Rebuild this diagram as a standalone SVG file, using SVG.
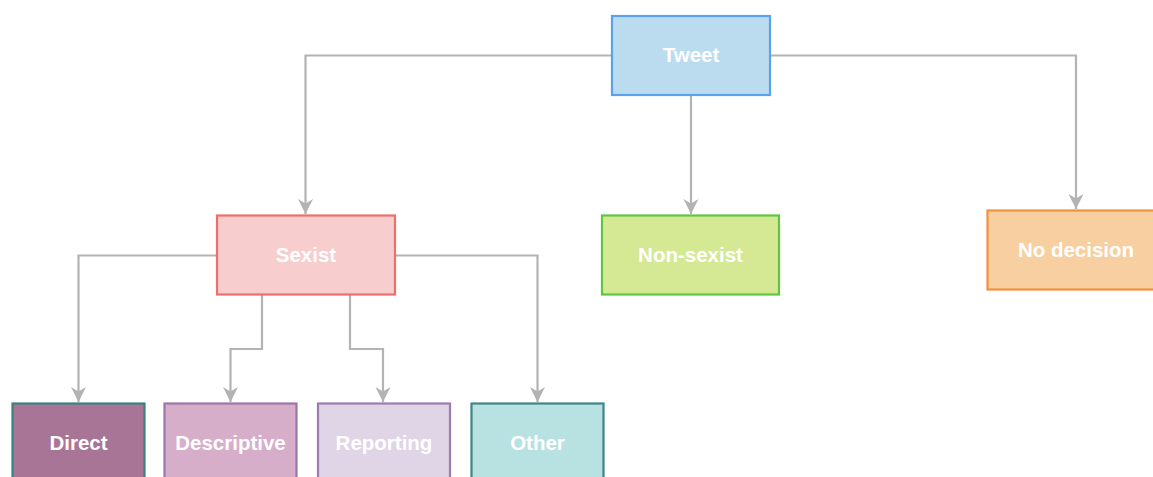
<svg xmlns="http://www.w3.org/2000/svg" width="1153" height="477" viewBox="0 0 1153 477">
<defs>
<style>
.n rect{stroke-width:2.2}
.n text{font-family:"Liberation Sans",Arial,Helvetica,sans-serif;font-weight:bold;font-size:20.5px;fill:#fff;text-anchor:middle;dominant-baseline:central}
.c path{fill:none;stroke:#b3b3b3;stroke-width:2.2}
</style>
<marker id="a" markerUnits="userSpaceOnUse" markerWidth="18" markerHeight="18" refX="15" refY="9" orient="auto">
<path d="M15,9 L0,1.5 L4.5,9 L0,16.5 Z" fill="#b3b3b3"/>
</marker>
</defs>
<rect width="1153" height="477" fill="#fff"/>
<g id="connectors" class="c">
<path d="M612,55.5 H305.5 V214" marker-end="url(#a)"/>
<path d="M691,95 V214" marker-end="url(#a)"/>
<path d="M770,55.5 H1076 V209" marker-end="url(#a)"/>
<path d="M217,255.5 H78.5 V402" marker-end="url(#a)"/>
<path d="M262,295 V349 H230.5 V402" marker-end="url(#a)"/>
<path d="M350,295 V349 H383 V402" marker-end="url(#a)"/>
<path d="M395,255.5 H537.5 V402" marker-end="url(#a)"/>
</g>
<g id="tweet" class="n"><rect x="612" y="16" width="158" height="79" fill="#bbdcef" stroke="#5aa2ea"/><text x="691" y="54.5">Tweet</text></g>
<g id="sexist" class="n"><rect x="217" y="215.5" width="178" height="79" fill="#f7cdcd" stroke="#ed6f6b"/><text x="306" y="254">Sexist</text></g>
<g id="nonsexist" class="n"><rect x="602" y="215.5" width="177" height="79" fill="#d5e995" stroke="#5ec63f"/><text x="690.5" y="254">Non-sexist</text></g>
<g id="nodecision" class="n"><rect x="987.5" y="210.5" width="170" height="79" fill="#f7cfa0" stroke="#f1913c"/><text x="1076" y="249">No decision</text></g>
<g id="direct" class="n"><rect x="12.5" y="403.5" width="132" height="80" fill="#a87596" stroke="#3a8181"/><text x="78.5" y="442">Direct</text></g>
<g id="descriptive" class="n"><rect x="164.5" y="403.5" width="132" height="80" fill="#d6aec9" stroke="#9a76aa"/><text x="230.5" y="442">Descriptive</text></g>
<g id="reporting" class="n"><rect x="318" y="403.5" width="132" height="80" fill="#e0d5e7" stroke="#9c7bb0"/><text x="384" y="442">Reporting</text></g>
<g id="other" class="n"><rect x="471.5" y="403.5" width="132" height="80" fill="#b8e1e1" stroke="#3e8585"/><text x="537.5" y="442">Other</text></g>
</svg>
